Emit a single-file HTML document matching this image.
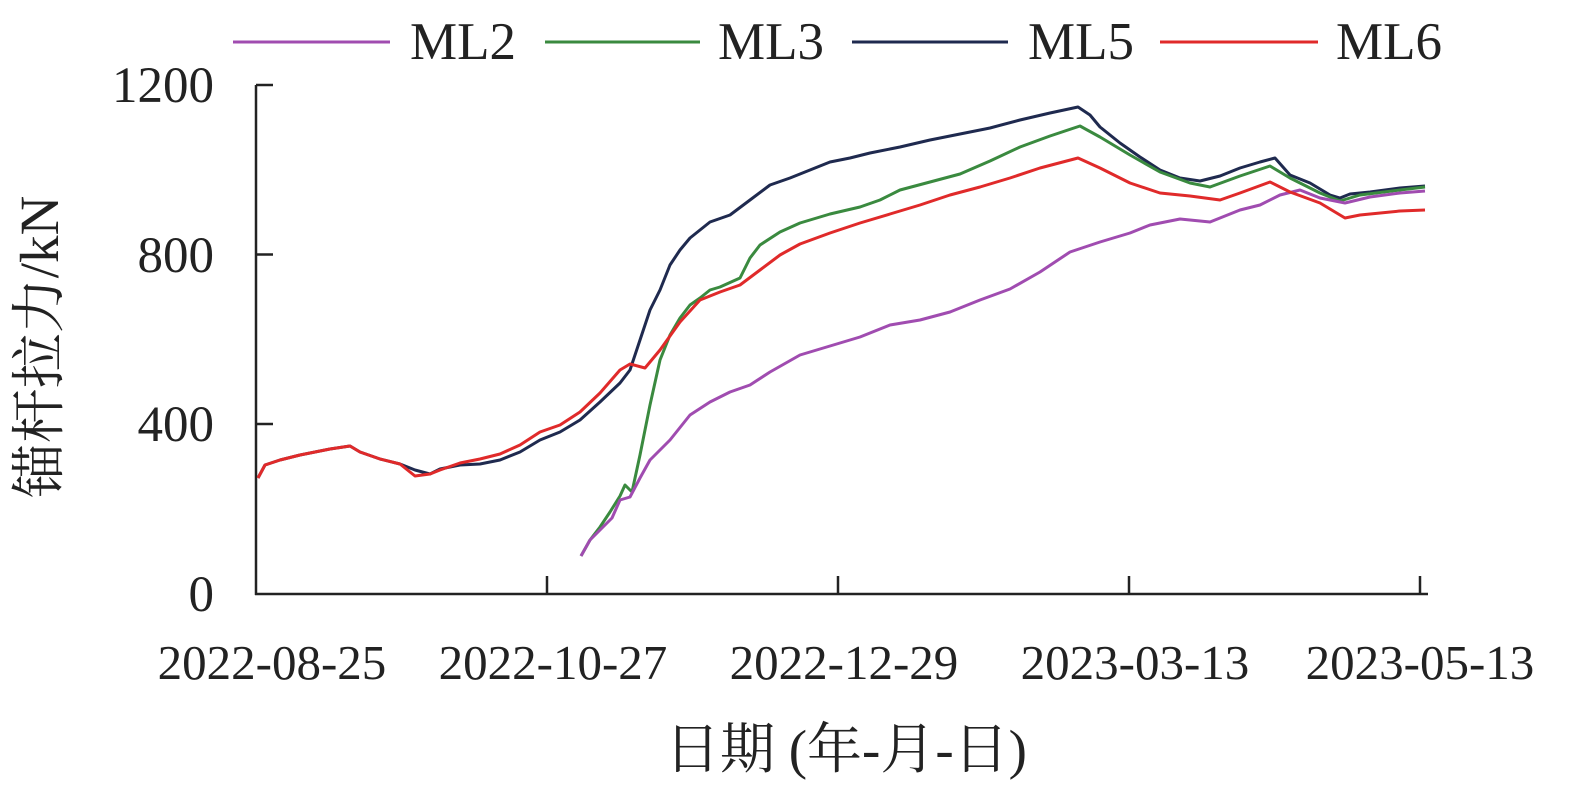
<!DOCTYPE html>
<html><head><meta charset="utf-8"><style>
html,body{margin:0;padding:0;background:#fff}
svg{display:block}
text{font-family:"Liberation Serif","Noto Serif CJK SC",serif;fill:#222}
</style></head><body>
<svg width="1575" height="797" viewBox="0 0 1575 797" xmlns="http://www.w3.org/2000/svg">
<g stroke="#222" stroke-width="2.5" fill="none">
<line x1="256" y1="85" x2="256" y2="595"/>
<line x1="255" y1="594" x2="1428" y2="594"/>
<line x1="256" y1="85" x2="273" y2="85"/>
<line x1="256" y1="254.5" x2="273" y2="254.5"/>
<line x1="256" y1="424" x2="273" y2="424"/>
<line x1="547" y1="576" x2="547" y2="594"/>
<line x1="838" y1="576" x2="838" y2="594"/>
<line x1="1129" y1="576" x2="1129" y2="594"/>
<line x1="1420" y1="576" x2="1420" y2="594"/>
</g>
<g font-size="51" text-anchor="end">
<text x="214" y="102">1200</text>
<text x="214" y="272">800</text>
<text x="214" y="441">400</text>
<text x="214" y="611">0</text>
</g>
<g font-size="49" text-anchor="middle">
<text x="272" y="679">2022-08-25</text>
<text x="553" y="679">2022-10-27</text>
<text x="844" y="679">2022-12-29</text>
<text x="1135" y="679">2023-03-13</text>
<text x="1420" y="679">2023-05-13</text>
</g>
<g font-size="55" text-anchor="middle">
<text x="846" y="768">日期 (年-月-日)</text>
<text transform="translate(58,347) rotate(-90)">锚杆拉力/kN</text>
</g>
<g stroke-width="3" fill="none" stroke-linejoin="round">
<polyline stroke="#1f2a4f" points="258,478 265,465 280,460 300,455 330,449 350,446 360,452 380,459 400,464 415,470 430,474 440,469 460,465 480,464 500,460 520,452 540,440 560,432 580,420 600,402 620,383 630,370 640,340 650,310 660,290 670,265 680,250 690,238 700,230 710,222 730,215 750,200 770,185 790,178 810,170 830,162 850,158 870,153 900,147 930,140 960,134 990,128 1020,120 1050,113 1078,107 1090,115 1100,127 1120,143 1140,157 1160,170 1180,178 1200,181 1220,176 1240,168 1260,162 1275,158 1290,175 1310,183 1330,195 1340,198 1350,194 1370,192 1400,188 1425,186"/>
<polyline stroke="#3a8a3f" points="581,556 590,540 600,527 610,512 620,496 625,485 632,492 640,455 650,405 660,360 670,335 680,318 690,305 700,298 710,290 720,287 740,278 750,258 760,245 780,232 800,223 830,214 860,207 880,200 900,190 930,182 960,174 990,161 1020,147 1050,136 1080,126 1100,137 1130,155 1160,172 1190,183 1210,187 1240,176 1270,166 1290,178 1320,193 1340,201 1360,195 1400,190 1425,187"/>
<polyline stroke="#a04cb0" points="581,556 590,540 600,530 612,518 620,500 630,497 640,478 650,460 670,440 690,415 710,402 730,392 750,385 770,372 800,355 830,346 860,337 890,325 920,320 950,312 980,300 1010,289 1040,272 1070,252 1100,242 1130,233 1150,225 1180,219 1210,222 1240,210 1260,205 1280,195 1300,190 1320,198 1345,203 1370,197 1400,193 1425,191"/>
<polyline stroke="#e02a2a" points="258,478 265,465 280,460 300,455 330,449 350,446 360,452 380,459 400,464 415,476 430,474 440,470 460,463 480,459 500,454 520,445 540,432 560,425 580,412 600,393 620,370 630,364 645,368 660,350 680,322 700,300 720,292 740,285 760,270 780,255 800,244 830,233 860,223 890,214 920,205 950,195 980,187 1010,178 1040,168 1078,158 1100,168 1130,183 1160,193 1190,196 1220,200 1240,193 1270,182 1290,192 1320,203 1345,218 1360,215 1400,211 1425,210"/>
</g>
<g stroke-width="3">
<line x1="233" y1="42" x2="390" y2="42" stroke="#a04cb0"/>
<line x1="545" y1="42" x2="700" y2="42" stroke="#3a8a3f"/>
<line x1="852" y1="42" x2="1008" y2="42" stroke="#1f2a4f"/>
<line x1="1160" y1="42" x2="1318" y2="42" stroke="#e02a2a"/>
</g>
<g font-size="53">
<text x="410" y="59">ML2</text>
<text x="718" y="59">ML3</text>
<text x="1028" y="59">ML5</text>
<text x="1336" y="59">ML6</text>
</g>
</svg>
</body></html>
